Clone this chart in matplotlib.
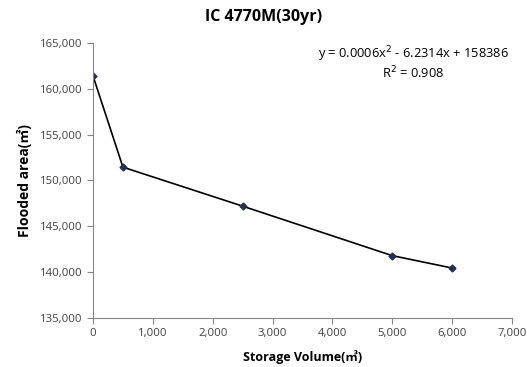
import matplotlib
matplotlib.use("Agg")
import matplotlib.pyplot as plt
from matplotlib.ticker import FuncFormatter

plt.rcParams['font.family'] = ['Open Sans', 'Noto Sans CJK SC', 'DejaVu Sans']

storage = [0, 500, 2500, 5000, 6000]
flooded = [161400, 151450, 147200, 141800, 140450]
x_ticks = [0, 1000, 2000, 3000, 4000, 5000, 6000, 7000]
y_ticks = [135000, 140000, 145000, 150000, 155000, 160000, 165000]

fig = plt.figure(figsize=(5.27, 3.67), dpi=100)
ax = fig.add_axes([0.1765, 0.1335, 0.795, 0.7495])

ax.plot(storage, flooded, color='black', lw=1.2, marker='D', ms=3.5,
        mfc='#1f3050', mec='#1f3050')

ax.set_xlim(0, 7000)
ax.set_ylim(135000, 165000)
ax.set_xticks(x_ticks)
ax.set_yticks(y_ticks)
fmt = FuncFormatter(lambda v, p: f"{int(v):,}")
ax.xaxis.set_major_formatter(fmt)
ax.yaxis.set_major_formatter(fmt)
ax.tick_params(labelsize=8.2, color='#868686', length=4, width=0.8, labelcolor='#404040')

for s in ['top', 'right']:
    ax.spines[s].set_visible(False)
for s in ['left', 'bottom']:
    ax.spines[s].set_color('#868686')
    ax.spines[s].set_linewidth(0.8)

fig.text(0.5, 0.955, 'IC 4770M(30yr)', ha='center', va='center',
         fontsize=11.5, fontweight='bold')
ax.set_xlabel('Storage Volume(㎥)', fontsize=9, fontweight='bold', labelpad=8)
ax.set_ylabel('Flooded area(㎡)', fontsize=10, fontweight='bold', labelpad=6)

ax.text(0.765, 0.96, 'y = 0.0006x$^2$ - 6.2314x + 158386', transform=ax.transAxes,
        ha='center', va='center', fontsize=9.3)
ax.text(0.765, 0.89, 'R$^2$ = 0.908', transform=ax.transAxes,
        ha='center', va='center', fontsize=9.3)

fig.savefig('out.png', dpi=100)
